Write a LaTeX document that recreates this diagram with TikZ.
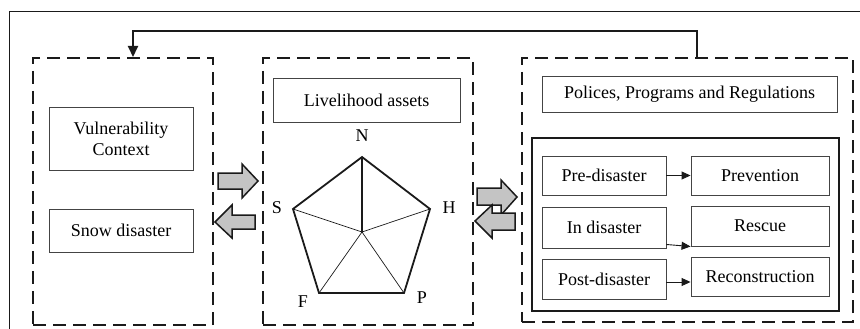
\documentclass[tikz,border=0pt]{standalone}
\usepackage{fontspec}
\setmainfont{Liberation Serif}
\usetikzlibrary{arrows.meta,calc}
\definecolor{ink}{HTML}{1A1A1A}
\definecolor{boxline}{HTML}{444444}
\definecolor{arrfill}{HTML}{C4C4C4}
\tikzset{
  dbox/.style={draw=ink,line width=2pt,dash pattern=on 13pt off 7pt,inner sep=0pt},
  sbox/.style={draw=boxline,line width=0.9pt,inner sep=0pt,align=center,font=\fontsize{18}{21}\selectfont,text=black},
  lab/.style={inner sep=0pt,font=\fontsize{18}{21}\selectfont,text=black},
  smallarr/.style={draw=ink,line width=0.9pt,-{Triangle[length=9pt,width=8pt]}},
  fb/.style={draw=ink,line width=2pt,-{Triangle[length=11pt,width=10pt]}},
  blockarr/.style={draw=ink,line width=1.5pt,fill=arrfill,line join=miter},
}
\begin{document}
\begin{tikzpicture}[x=1pt,y=-1pt]
\useasboundingbox (0,0) rectangle (860,329);
% outer frame (cropped)
\draw[ink,line width=0.9pt] (9,329) -- (9,11) -- (860,11);

% dashed containers
\node[dbox,minimum width=180pt,minimum height=267pt] (lbox) at (123,191.5) {};
\node[dbox,minimum width=210pt,minimum height=267pt] (mbox) at (368,191.5) {};
\node[dbox,minimum width=331pt,minimum height=264pt] (rbox) at (687.5,190) {};

% left boxes
\node[sbox,minimum width=144pt,minimum height=63pt] (vul) at (121,138.5) {Vulnerability\\Context};
\node[sbox,minimum width=144pt,minimum height=43pt] (snow) at (121,230.5) {Snow disaster};

% middle
\node[sbox,minimum width=187pt,minimum height=44pt] (live) at (366.5,100) {Livelihood assets};
\coordinate (pN) at (362,157);
\coordinate (pH) at (430,209);
\coordinate (pP) at (404,293);
\coordinate (pF) at (319,293);
\coordinate (pS) at (293,209);
\coordinate (pO) at (362,232);
\draw[ink,line width=0.7pt] (pO) -- (pH) (pO) -- (pP) (pO) -- (pF) (pO) -- (pS);
\draw[ink,line width=1.8pt] (pO) -- (pN);
\draw[ink,line width=1.8pt,line join=miter] (pN) -- (pH) -- (pP) -- (pF) -- (pS) -- cycle;
\node[lab] (lN) at (362,136) {N};
\node[lab] (lS) at (277,208) {S};
\node[lab] (lH) at (449,208) {H};
\node[lab] (lF) at (303,302) {F};
\node[lab] (lP) at (422,298) {P};

% right
\node[sbox,minimum width=295pt,minimum height=36pt] (pol) at (689.5,94) {Polices, Programs and Regulations};
\node[draw=ink,line width=1.8pt,inner sep=0pt,minimum width=307pt,minimum height=173pt] (inner) at (685.5,224.5) {};
\node[sbox,minimum width=124pt,minimum height=39pt] (pre) at (604,175.5) {Pre-disaster};
\node[sbox,minimum width=138pt,minimum height=39pt] (prev) at (760,175.5) {Prevention};
\node[sbox,minimum width=124pt,minimum height=41pt] (ind) at (604,227.5) {In disaster};
\node[sbox,minimum width=138pt,minimum height=40pt] (resc) at (760,226) {Rescue};
\node[sbox,minimum width=124pt,minimum height=40pt] (post) at (604,279) {Post-disaster};
\node[sbox,minimum width=138pt,minimum height=39pt] (recon) at (760,276.5) {Reconstruction};

\draw[smallarr] (pre.east) -- (prev.west);
\draw[smallarr] ([yshift=-17pt]ind.east) -- ([yshift=-19pt]ind.east -| resc.west);
\draw[smallarr] ([yshift=-3pt]post.east) -- ([yshift=-3pt]post.east -| recon.west);

% feedback
\draw[fb] ([xshift=9.5pt]rbox.north) -- ++(0,-26) -| ([xshift=10pt]lbox.north);

% block arrows
\draw[blockarr] (218,173) -- (242,173) -- (242,164) -- (258,181) -- (242,198) -- (242,189) -- (218,189) -- cycle;
\draw[blockarr] (255,215) -- (232,215) -- (232,205) -- (215,222) -- (232,238) -- (232,229) -- (255,229) -- cycle;
\draw[blockarr] (477,188) -- (501,188) -- (501,180) -- (517,197) -- (501,215) -- (501,205) -- (477,205) -- cycle;
\draw[blockarr] (515,213) -- (492,213) -- (492,205) -- (475,221) -- (492,238) -- (492,230) -- (515,230) -- cycle;
\end{tikzpicture}
\end{document}
